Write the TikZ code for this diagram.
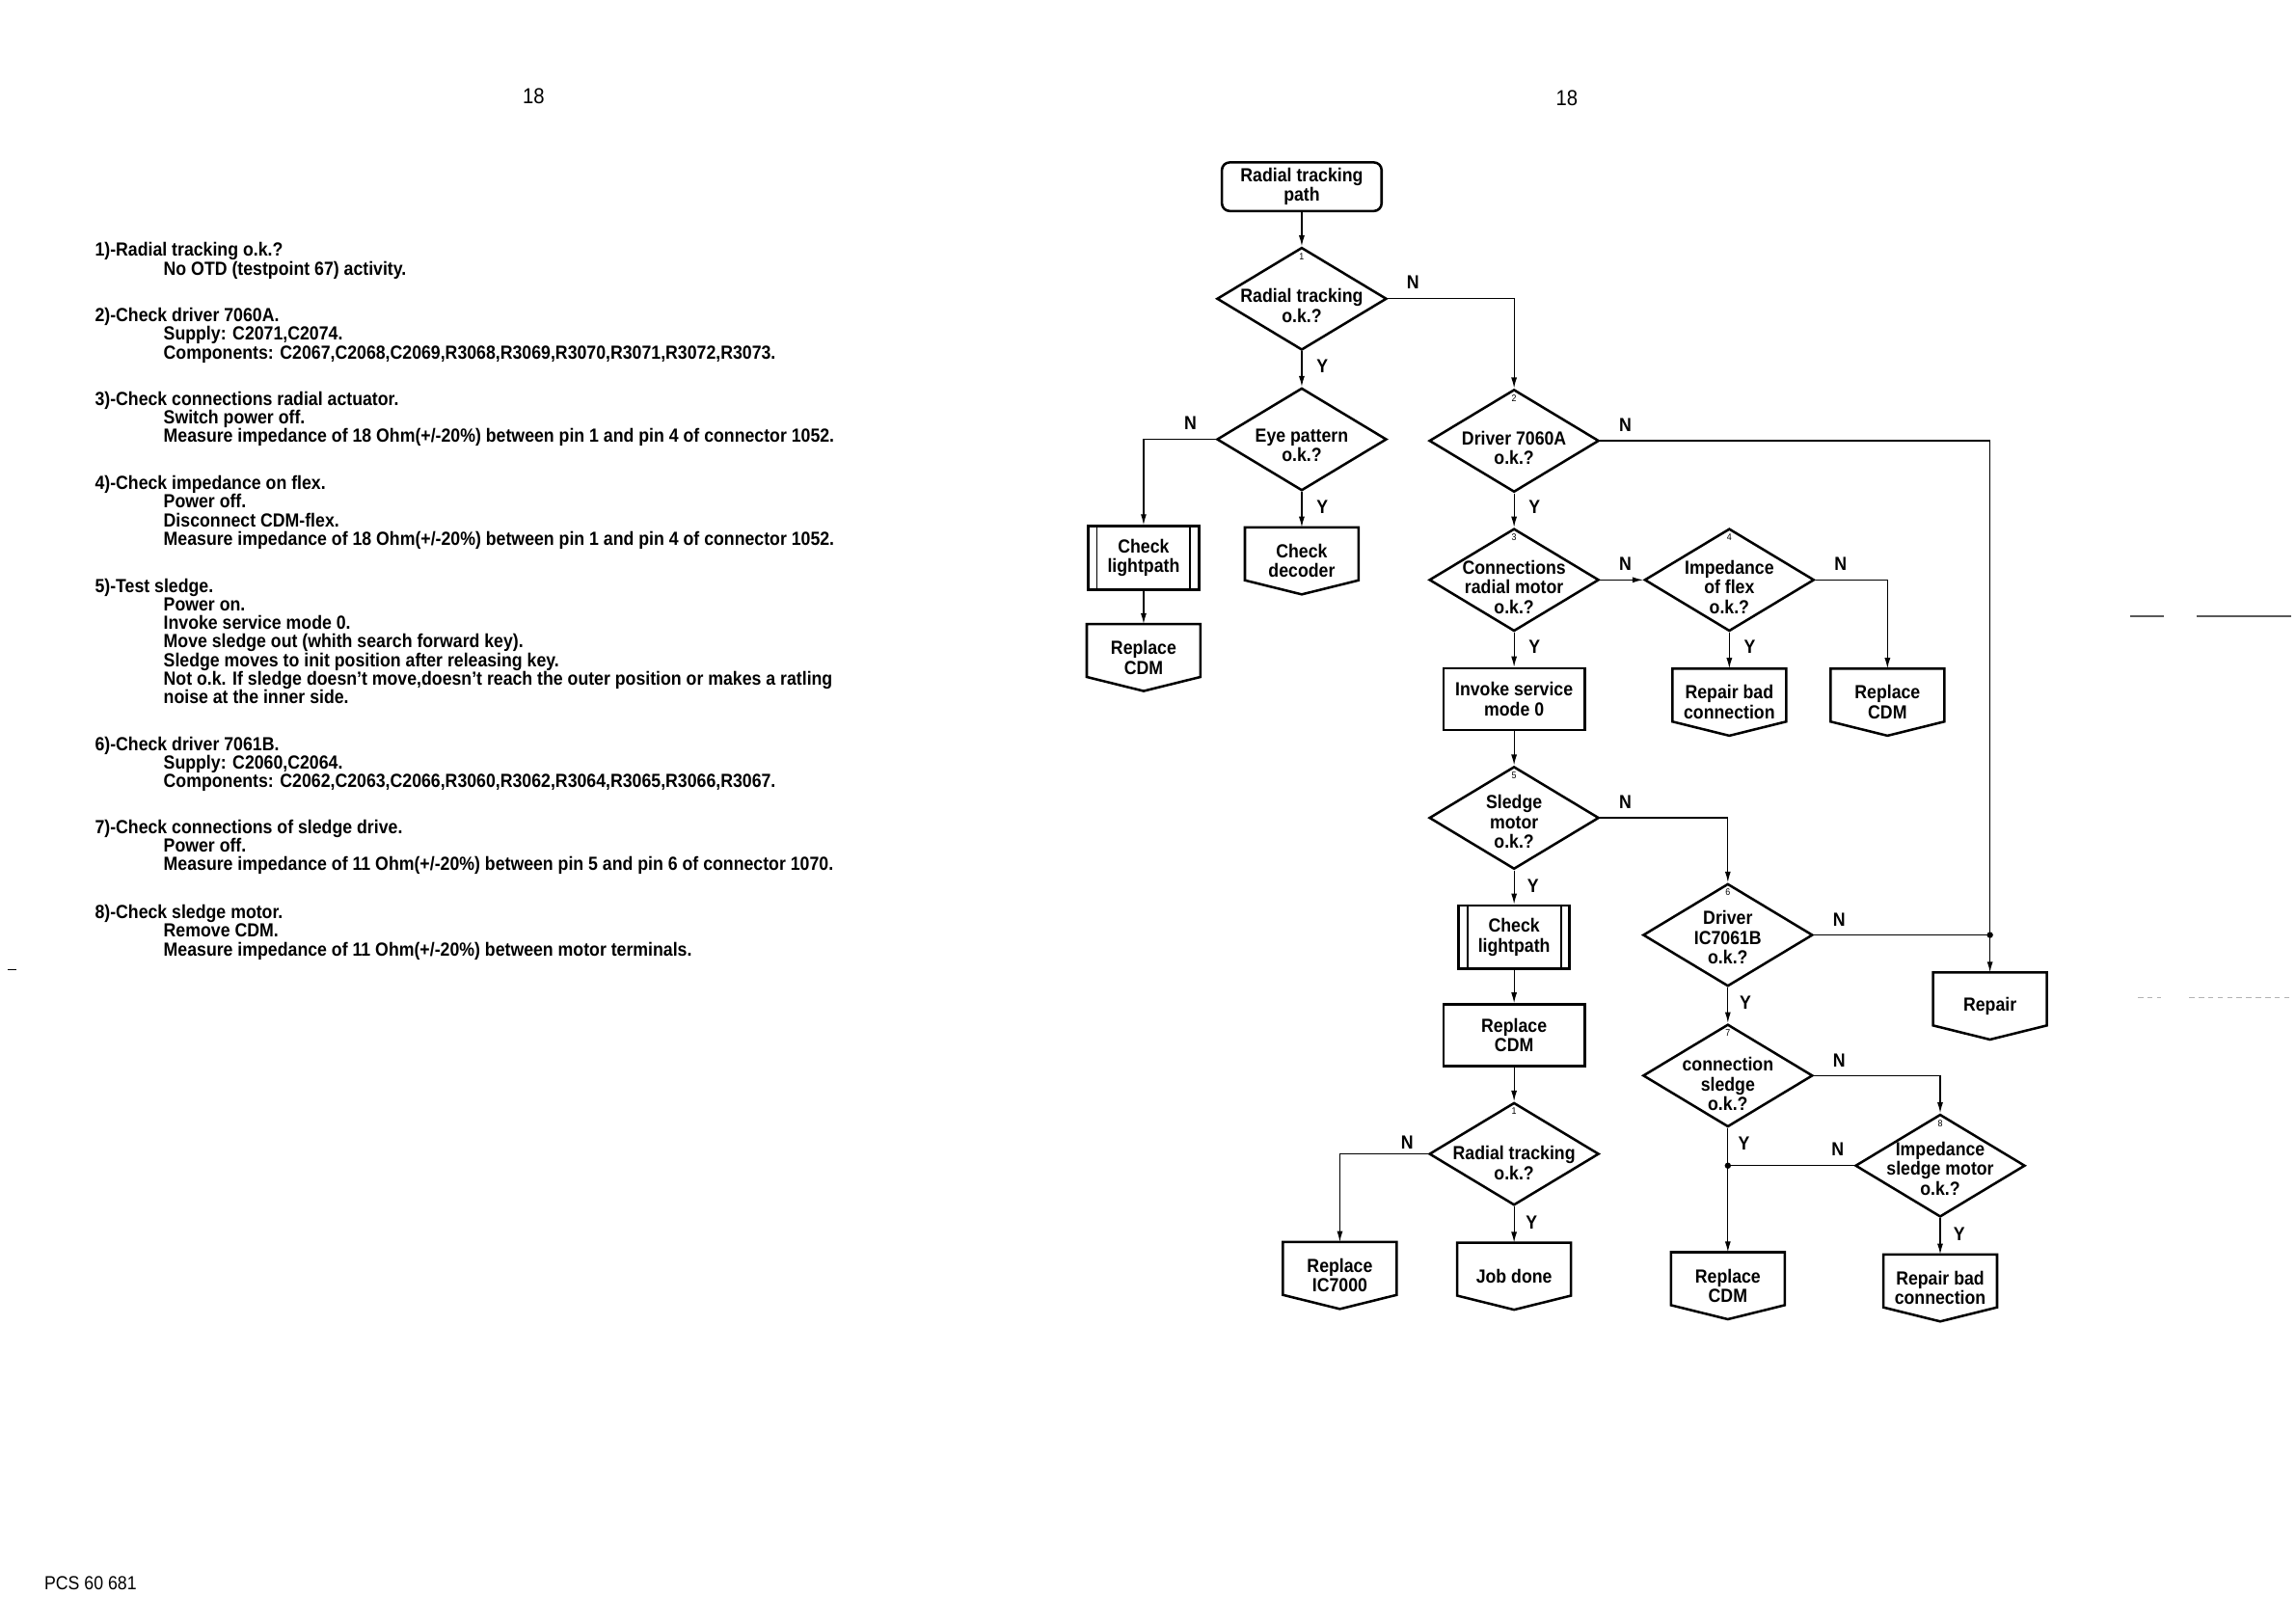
\documentclass[tikz,border=0pt]{standalone}
\usepackage{fontspec}
\setmainfont{Liberation Sans}[FakeStretch=0.9]
\usetikzlibrary{positioning, arrows.meta, calc, shapes.geometric}
\newcommand{\indt}{\hspace*{8.9mm}}
\setlength{\lineskiplimit}{-4pt}

\begin{document}
\begin{tikzpicture}[
  x=0.18981mm, y=-0.18981mm,
  font=\fontsize{7}{7.3}\selectfont\bfseries,
  box/.style={draw, line width=0.9pt},
  terminal/.style={box, rounded corners=1mm, minimum width=20.7mm, minimum height=6.3mm,
    align=center, inner sep=0pt},
  decision/.style={diamond, box, minimum width=22mm, minimum height=13.3mm, inner sep=0pt},
  dtext/.style={align=center, inner sep=0pt},
  process/.style={box, minimum width=18.3mm, minimum height=8mm, align=center, inner sep=0pt},
  predef/.style={box, minimum width=14.4mm, minimum height=8.2mm, align=center, inner sep=0pt},
  offpage/.style={minimum width=14.6mm, minimum height=8.55mm, align=center, inner sep=0pt},
  yn/.style={inner sep=0pt},
  num/.style={font=\fontsize{3.5}{4}\selectfont, inner sep=0pt},
  arrow/.style={-{Latex[length=1.4mm, width=0.75mm]}, line width=0.45pt},
  link/.style={line width=0.45pt},
  note/.style={align=left, anchor=north west, inner sep=0pt,
    font=\fontsize{7}{6.85}\selectfont\bfseries},
  page/.style={inner sep=0pt, font=\fontsize{8}{9}\selectfont\mdseries},
]
\useasboundingbox (0,0) rectangle (1568,1108);

% ---- page heads and foot ----
\node[page] (pgL) at (364.5,66) {18};
\node[page] (pgR) at (1070,67) {18};
\node[page, font=\fontsize{7}{8}\selectfont\mdseries, anchor=west] (code) at (30,1081) {PCS 60 681};

% ---- LEFT: notes ----
\node[note] (n1) at (64.5,165.3) {1)-Radial tracking o.k.?\\\indt No OTD (testpoint 67) activity.};
\node[note] (n2) at (64.5,209.9) {2)-Check driver 7060A.\\\indt Supply: C2071,C2074.\\\indt Components: C2067,C2068,C2069,R3068,R3069,R3070,R3071,R3072,R3073.};
\node[note] (n3) at (64.5,267) {3)-Check connections radial actuator.\\\indt Switch power off.\\\indt Measure impedance of 18 Ohm(+/-20\%) between pin 1 and pin 4 of connector 1052.};
\node[note] (n4) at (64.5,324.5) {4)-Check impedance on flex.\\\indt Power off.\\\indt Disconnect CDM-flex.\\\indt Measure impedance of 18 Ohm(+/-20\%) between pin 1 and pin 4 of connector 1052.};
\node[note] (n5) at (64.5,394.7) {5)-Test sledge.\\\indt Power on.\\\indt Invoke service mode 0.\\\indt Move sledge out (whith search forward key).\\\indt Sledge moves to init position after releasing key.\\\indt Not o.k. If sledge doesn't move,doesn't reach the outer position or makes a ratling\\\indt noise at the inner side.};
\node[note] (n6) at (64.5,502.7) {6)-Check driver 7061B.\\\indt Supply: C2060,C2064.\\\indt Components: C2062,C2063,C2066,R3060,R3062,R3064,R3065,R3066,R3067.};
\node[note] (n7) at (64.5,559.4) {7)-Check connections of sledge drive.\\\indt Power off.\\\indt Measure impedance of 11 Ohm(+/-20\%) between pin 5 and pin 6 of connector 1070.};
\node[note] (n8) at (64.5,617.5) {8)-Check sledge motor.\\\indt Remove CDM.\\\indt Measure impedance of 11 Ohm(+/-20\%) between motor terminals.};
\draw[line width=0.4pt] (5,662) -- (11,662);

% ---- RIGHT: decisions ----
\node[terminal] (start) at (889,127.5) {Radial tracking\\path};

\node[decision] (radial) at (889,204) {};
\node[dtext] (tradial) at ([yshift=-0.9mm]radial) {Radial tracking\\o.k.?};
\node[num, below=0.8mm of radial.north] (kradial) {1};

\node[decision] (eye) at (889,300) {};
\node[dtext] (teye) at ([yshift=-0.8mm]eye) {Eye pattern\\o.k.?};

\node[decision] (drvA) at (1034,301) {};
\node[dtext] (tdrvA) at ([yshift=-0.9mm]drvA) {Driver 7060A\\o.k.?};
\node[num, below=0.8mm of drvA.north] (kdrvA) {2};

\node[decision] (conn) at (1034,396) {};
\node[dtext] (tconn) at ([yshift=-0.9mm]conn) {Connections\\radial motor\\o.k.?};
\node[num, below=0.8mm of conn.north] (kconn) {3};

\node[decision] (flex) at (1181,396) {};
\node[dtext] (tflex) at ([yshift=-0.9mm]flex) {Impedance\\of flex\\o.k.?};
\node[num, below=0.8mm of flex.north] (kflex) {4};

\node[decision] (sledge) at (1034,558.5) {};
\node[dtext] (tsledge) at ([yshift=-0.5mm]sledge) {Sledge\\motor\\o.k.?};
\node[num, below=0.8mm of sledge.north] (ksledge) {5};

\node[decision] (drvB) at (1180,638.5) {};
\node[dtext] (tdrvB) at ([yshift=-0.3mm]drvB) {Driver\\IC7061B\\o.k.?};
\node[num, below=0.8mm of drvB.north] (kdrvB) {6};

\node[decision] (sconn) at (1180,734.5) {};
\node[dtext] (tsconn) at ([yshift=-1.1mm]sconn) {connection\\sledge\\o.k.?};
\node[num, below=0.8mm of sconn.north] (ksconn) {7};

\node[decision] (smotor) at (1325,796) {};
\node[dtext] (tsmotor) at ([yshift=-0.4mm]smotor) {Impedance\\sledge motor\\o.k.?};
\node[num, below=0.8mm of smotor.north] (ksmotor) {8};

\node[decision] (radialB) at (1034,788) {};
\node[dtext] (tradialB) at ([yshift=-1.2mm]radialB) {Radial tracking\\o.k.?};
\node[num, below=0.8mm of radialB.north] (kradialB) {1};

% ---- RIGHT: actions ----
\node[predef] (lightA) at (781,381) {Check\\lightpath};
\node[offpage] (cdmA) at (781,449) {Replace\\CDM};
\node[offpage] (decoder) at (889,383) {Check\\decoder};
\node[offpage] (repbadA) at (1181,479.5) {Repair bad\\connection};
\node[offpage] (cdmB) at (1289,479.5) {Replace\\CDM};
\node[process] (invoke) at (1034,477.5) {Invoke service\\mode 0};
\node[predef] (lightB) at (1034,640) {Check\\lightpath};
\node[process] (cdmC) at (1034,707) {Replace\\CDM};
\node[offpage] (repair) at (1359,687) {Repair};
\node[offpage] (ic7000) at (915,871) {Replace\\IC7000};
\node[offpage] (done) at (1034,871.5) {Job done};
\node[offpage] (cdmD) at (1180,878) {Replace\\CDM};
\node[offpage] (repbadB) at (1325,879.5) {Repair bad\\connection};

\foreach \n in {cdmA, decoder, repbadA, cdmB, repair, ic7000, done, cdmD, repbadB}
  \draw[box] (\n.north west) -- (\n.north east) -- ($(\n.south east)!0.21!(\n.north east)$)
    -- (\n.south) -- ($(\n.south west)!0.21!(\n.north west)$) -- cycle;
\foreach \n in {lightA, lightB} {
  \draw[line width=0.7pt] ([xshift=1.3mm]\n.north west) -- ([xshift=1.3mm]\n.south west);
  \draw[line width=0.7pt] ([xshift=-1.3mm]\n.north east) -- ([xshift=-1.3mm]\n.south east);
}

% ---- connectors ----
\draw[arrow] (start) -- (radial);
\draw[arrow] (radial.east) -| (drvA.north);
\draw[arrow] (radial) -- (eye);
\draw[arrow] (eye.west) -| (lightA.north);
\draw[arrow] (eye) -- (decoder);
\draw[arrow] (lightA) -- (cdmA);
\draw[arrow] (drvA.east) -| (repair.north);
\draw[arrow] (drvA) -- (conn);
\draw[arrow] (conn) -- (flex);
\draw[arrow] (flex.east) -| (cdmB.north);
\draw[arrow] (flex) -- (repbadA);
\draw[arrow] (conn) -- (invoke);
\draw[arrow] (invoke) -- (sledge);
\draw[arrow] (sledge.east) -| (drvB.north);
\draw[arrow] (sledge) -- (lightB);
\draw[arrow] (lightB) -- (cdmC);
\draw[arrow] (cdmC) -- (radialB);
\draw[arrow] (radialB.west) -| (ic7000.north);
\draw[arrow] (radialB) -- (done);
\coordinate (jrep) at (drvB.east -| repair.north);
\draw[link] (drvB.east) -- (jrep);
\fill (jrep) circle (0.4mm);
\draw[arrow] (drvB) -- (sconn);
\draw[arrow] (sconn.east) -| (smotor.north);
\draw[arrow] (sconn) -- (cdmD);
\coordinate (jcdm) at (smotor.west -| sconn.south);
\draw[link] (smotor.west) -- (jcdm);
\fill (jcdm) circle (0.4mm);
\draw[arrow] (smotor) -- (repbadB);

% ---- Y / N ----
\node[yn] (nradial) at (965,193) {N};
\node[yn] (yradial) at (903,250) {Y};
\node[yn] (neye) at (813,289) {N};
\node[yn] (yeye) at (903,346) {Y};
\node[yn] (ndrvA) at (1110,290) {N};
\node[yn] (ydrvA) at (1048,346) {Y};
\node[yn] (nconn) at (1110,385) {N};
\node[yn] (yconn) at (1048,442) {Y};
\node[yn] (nflex) at (1257,385) {N};
\node[yn] (yflex) at (1195,442) {Y};
\node[yn] (nsledge) at (1110,548) {N};
\node[yn] (ysledge) at (1047,605) {Y};
\node[yn] (ndrvB) at (1256,628) {N};
\node[yn] (ydrvB) at (1192,685) {Y};
\node[yn] (nsconn) at (1256,724) {N};
\node[yn] (ysconn) at (1191,781) {Y};
\node[yn] (nsmotor) at (1255,785) {N};
\node[yn] (ysmotor) at (1338,843) {Y};
\node[yn] (nradialB) at (961,780) {N};
\node[yn] (yradialB) at (1046,835) {Y};

% ---- margin marks ----
\draw[line width=0.6pt, gray!70!black] (1455,421) -- (1478,421) (1500,421) -- (1565,421);
\draw[line width=0.4pt, gray!60, dash pattern=on 2pt off 1.5pt] (1460,681) -- (1476,681) (1495,681) -- (1565,681);

\end{tikzpicture}
\end{document}
